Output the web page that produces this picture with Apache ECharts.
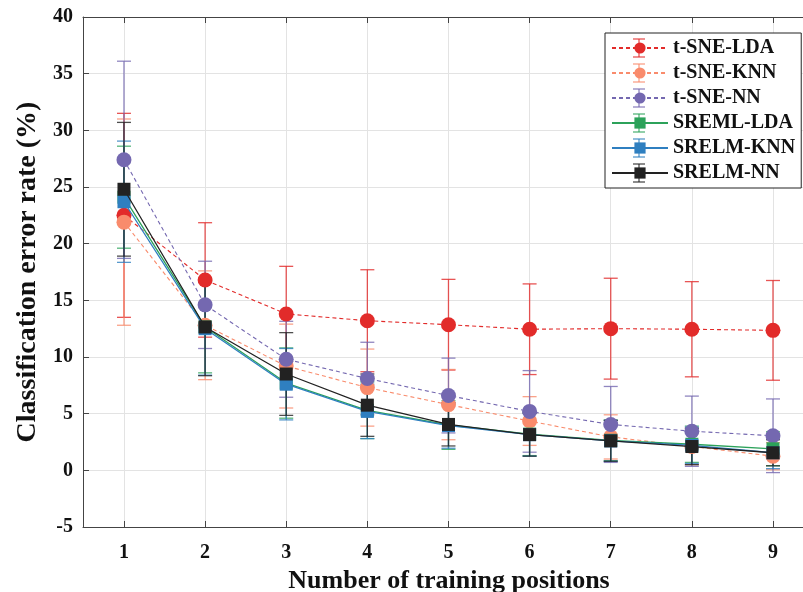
<!DOCTYPE html>
<html>
<head>
<meta charset="utf-8">
<script src="https://cdn.jsdelivr.net/npm/echarts@6/dist/echarts.min.js"></script>
<style>
  html, body { margin: 0; padding: 0; background: #fff; }
  #chart { width: 803px; height: 592px; }
</style>
</head>
<body>
<div id="chart"></div>
<script>
// training positions
const positions = [1, 2, 3, 4, 5, 6, 7, 8, 9];

// mean error rates (%) and half-width of error bars
const tsneLda = [22.5, 16.8, 13.8, 13.2, 12.85, 12.45, 12.5, 12.45, 12.35];
const tsneLdaErr = [9.0, 5.05, 4.2, 4.5, 4.0, 4.0, 4.45, 4.2, 4.4];
const tsneKnn = [21.9, 12.8, 9.2, 7.3, 5.8, 4.35, 2.95, 2.1, 1.25];
const tsneKnnErr = [9.1, 4.8, 3.7, 3.4, 3.1, 2.15, 1.95, 1.6, 1.2];
const tsneNn = [27.4, 14.6, 9.8, 8.1, 6.6, 5.2, 4.05, 3.45, 3.05];
const tsneNnErr = [8.7, 3.85, 3.35, 3.2, 3.3, 3.6, 3.35, 3.1, 3.25];
const srelmLda = [24.1, 12.65, 7.7, 5.3, 4.0, 3.2, 2.65, 2.3, 1.9];
const srelmLdaErr = [4.5, 4.05, 3.1, 2.5, 2.15, 1.9, 1.8, 1.6, 1.5];
const srelmKnn = [23.7, 12.5, 7.6, 5.2, 3.95, 3.15, 2.6, 2.2, 1.55];
const srelmKnnErr = [5.35, 4.1, 3.15, 2.4, 2.0, 1.9, 1.8, 1.6, 1.4];
const srelmNn = [24.8, 12.65, 8.5, 5.75, 4.05, 3.15, 2.6, 2.1, 1.55];
const srelmNnErr = [5.9, 4.3, 3.65, 2.75, 1.9, 1.9, 1.8, 1.6, 1.15];

const yTicks = [-5, 0, 5, 10, 15, 20, 25, 30, 35, 40];

const FONT = "Liberation Serif";

const groups = [
  { name: "t-SNE-LDA", mean: tsneLda, err: tsneLdaErr, color: "#e22b2a", symbol: "circle", dashed: true },
  { name: "t-SNE-KNN", mean: tsneKnn, err: tsneKnnErr, color: "#f98b6c", symbol: "circle", dashed: true },
  { name: "t-SNE-NN", mean: tsneNn, err: tsneNnErr, color: "#7468b0", symbol: "circle", dashed: true },
  { name: "SREML-LDA", mean: srelmLda, err: srelmLdaErr, color: "#2ca25a", symbol: "rect", dashed: false },
  { name: "SRELM-KNN", mean: srelmKnn, err: srelmKnnErr, color: "#2f7fc0", symbol: "rect", dashed: false },
  { name: "SRELM-NN", mean: srelmNn, err: srelmNnErr, color: "#222222", symbol: "rect", dashed: false }
];

function errorBar(color) {
  return function (params, api) {
    const x = api.value(0);
    const lo = api.coord([x, api.value(1)]);
    const hi = api.coord([x, api.value(2)]);
    const w = 7;
    const st = { stroke: color, lineWidth: 1.3, opacity: 0.8 };
    return {
      type: "group",
      children: [
        { type: "line", shape: { x1: lo[0], y1: lo[1], x2: hi[0], y2: hi[1] }, style: st },
        { type: "line", shape: { x1: lo[0] - w, y1: lo[1], x2: lo[0] + w, y2: lo[1] }, style: st },
        { type: "line", shape: { x1: hi[0] - w, y1: hi[1], x2: hi[0] + w, y2: hi[1] }, style: st }
      ]
    };
  };
}

const series = [];
groups.forEach((g, i) => {
  series.push({
    type: "custom",
    name: g.name + "-err",
    renderItem: errorBar(g.color),
    encode: { x: 0, y: [1, 2] },
    data: positions.map((p, k) => [p, g.mean[k] - g.err[k], g.mean[k] + g.err[k]]),
    z: 2 + i,
    silent: true
  });
});
groups.forEach((g, i) => {
  series.push({
    type: "line",
    name: g.name,
    data: positions.map((p, k) => [p, g.mean[k]]),
    symbol: g.symbol,
    symbolSize: g.symbol === "circle" ? 15 : 13,
    itemStyle: { color: g.color, opacity: 1 },
    lineStyle: { color: g.color, width: g.dashed ? 1.1 : 1.3, type: g.dashed ? [4, 3] : "solid" },
    z: 10 + i,
    animation: false
  });
});
// vertical grid lines at each training position
series[0].markLine = {
  silent: true,
  symbol: "none",
  label: { show: false },
  lineStyle: { color: "#e3e3e3", width: 1, type: "solid" },
  data: positions.map(p => ({ xAxis: p })),
  z: 0
};

// small error-bar glyphs on top of the legend icons
const legendLeft = 605, legendTop = 33, iconW = 56, rowH = 25;
const glyphs = [];
groups.forEach((g, i) => {
  const cx = legendLeft + 6 + iconW / 2;
  const cy = legendTop + 15 + rowH * i;
  const st = { stroke: g.color, lineWidth: 1.3, opacity: 0.8 };
  glyphs.push(
    { type: "line", z: 100, silent: true, shape: { x1: cx, y1: cy - 9, x2: cx, y2: cy + 9 }, style: st },
    { type: "line", z: 100, silent: true, shape: { x1: cx - 6, y1: cy - 9, x2: cx + 6, y2: cy - 9 }, style: st },
    { type: "line", z: 100, silent: true, shape: { x1: cx - 6, y1: cy + 9, x2: cx + 6, y2: cy + 9 }, style: st }
  );
});

const chart = echarts.init(document.getElementById("chart"));
chart.setOption({
  animation: false,
  backgroundColor: "#fff",
  grid: { left: 83, right: 0, top: 17, bottom: 65, outerBoundsMode: "none", containLabel: false },
  legend: {
    orient: "vertical",
    left: legendLeft,
    top: legendTop,
    data: groups.map(g => g.name),
    itemWidth: iconW,
    itemHeight: 14,
    itemGap: 5,
    padding: [5, 6, 5, 6],
    backgroundColor: "#fff",
    borderColor: "#222",
    borderWidth: 1,
    borderRadius: 0,
    textStyle: { fontFamily: FONT, fontWeight: "bold", fontSize: 20, color: "#111" }
  },
  graphic: glyphs,
  xAxis: [
    {
      type: "value",
      min: 0.495,
      max: 9.37,
      name: "Number of training positions",
      nameLocation: "middle",
      nameGap: 32,
      nameTextStyle: { fontFamily: FONT, fontWeight: "bold", fontSize: 26, color: "#111", padding: [0, 0, 0, 12] },
      axisLine: { onZero: false, lineStyle: { color: "#444", width: 1 } },
      axisTick: { inside: true, length: 6, customValues: positions, lineStyle: { color: "#444" } },
      axisLabel: { customValues: positions, margin: 16, fontFamily: FONT, fontWeight: "bold", fontSize: 20, color: "#111" },
      splitLine: { show: false }
    },
    {
      type: "value",
      position: "top",
      min: 0.495,
      max: 9.37,
      axisLine: { onZero: false, lineStyle: { color: "#444", width: 1 } },
      axisTick: { inside: true, length: 6, customValues: positions, lineStyle: { color: "#444" } },
      axisLabel: { show: false },
      splitLine: { show: false }
    }
  ],
  yAxis: {
    type: "value",
    min: yTicks[0],
    max: yTicks[yTicks.length - 1],
    interval: 5,
    name: "Classification error rate (%)",
    nameLocation: "middle",
    nameGap: 40,
    nameTextStyle: { fontFamily: FONT, fontWeight: "bold", fontSize: 28, color: "#111" },
    axisLine: { show: true, onZero: false, lineStyle: { color: "#444", width: 1 } },
    axisTick: { show: true, inside: true, length: 6, lineStyle: { color: "#444" } },
    axisLabel: { margin: 10, fontFamily: FONT, fontWeight: "bold", fontSize: 20, color: "#111" },
    splitLine: { lineStyle: { color: "#e3e3e3", width: 1 } }
  },
  series: series
});
</script>
</body>
</html>
